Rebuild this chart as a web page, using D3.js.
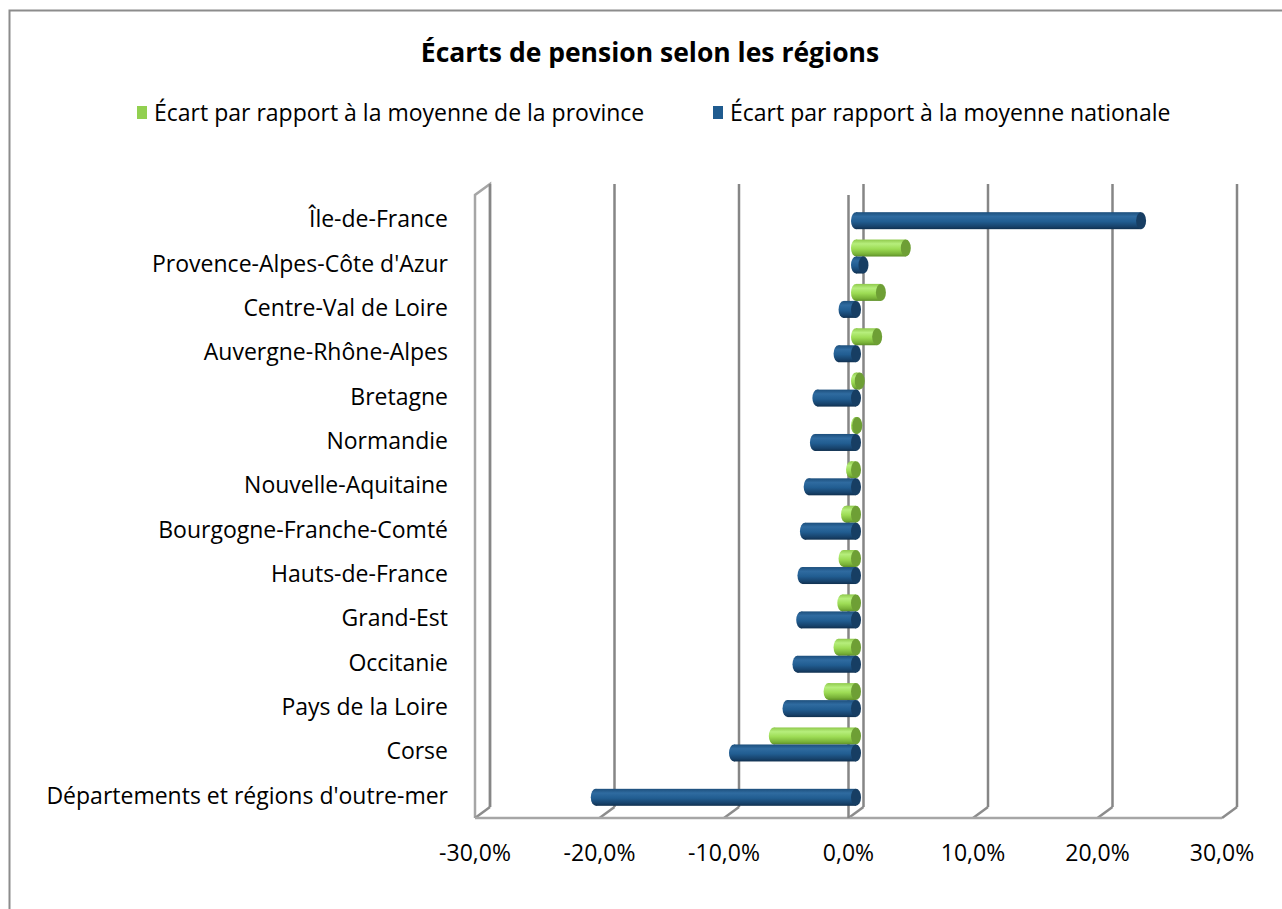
<!DOCTYPE html>
<html>
<head>
<meta charset="utf-8">
<script src="https://cdn.jsdelivr.net/npm/d3@7/dist/d3.min.js"></script>
<style>
  body { margin: 0; background: white; }
  text { font-family: "Open Sans", "Noto Sans", sans-serif; fill: #000; }
</style>
</head>
<body>
<div id="chart"></div>
<script>
var regions = ["Île-de-France", "Provence-Alpes-Côte d'Azur", "Centre-Val de Loire",
  "Auvergne-Rhône-Alpes", "Bretagne", "Normandie", "Nouvelle-Aquitaine",
  "Bourgogne-Franche-Comté", "Hauts-de-France", "Grand-Est", "Occitanie",
  "Pays de la Loire", "Corse", "Départements et régions d'outre-mer"];
var ecartProvince = [null, 4.0, 2.0, 1.7, 0.3, 0.1, -0.4, -0.8, -1.0, -1.1, -1.4, -2.2, -6.6, null];
var ecartNational = [22.9, 0.6, -1.0, -1.4, -3.1, -3.3, -3.8, -4.1, -4.3, -4.4, -4.7, -5.5, -9.8, -20.9];
var seriesNames = ["Écart par rapport à la moyenne de la province", "Écart par rapport à la moyenne nationale"];
var tickValues = [-30, -20, -10, 0, 10, 20, 30];

var W = 1282, H = 909;
var depthX = 15, depthY = -11;   // 3D depth offset from front to back wall

var svg = d3.select("#chart").append("svg")
    .attr("width", W)
    .attr("height", H);

// outer chart border
svg.append("rect")
    .attr("x", 9.5).attr("y", 10.5)
    .attr("width", 1300).attr("height", 920)
    .style("fill", "white")
    .style("stroke", "#8c8c8c")
    .style("stroke-width", 2);

// title
svg.append("text")
    .attr("x", 650).attr("y", 62)
    .attr("text-anchor", "middle")
    .style("font-size", "26.5px")
    .style("font-weight", "bold")
    .text("Écarts de pension selon les régions");

// legend
var legendX = [137, 713];
var colors = ["#92d050", "#1f5b8f"];
seriesNames.forEach(function(name, i) {
  svg.append("rect")
      .attr("x", legendX[i]).attr("y", 106)
      .attr("width", 10).attr("height", 13)
      .style("fill", colors[i]);
  svg.append("text")
      .attr("x", legendX[i] + 17).attr("y", 121)
      .style("font-size", "23px")
      .text(name);
});

// scales (front plane)
var x = d3.scaleLinear().domain([-30, 30]).range([475, 1222]);
var y = d3.scaleBand().domain(regions).range([197, 818]);
var floorY = 818, topY = 195;

// gradients for cylinders
var defs = svg.append("defs");
function makeGrad(id, stops) {
  var g = defs.append("linearGradient").attr("id", id)
      .attr("x1", 0).attr("y1", 0).attr("x2", 0).attr("y2", 1);
  stops.forEach(function(s) {
    g.append("stop").attr("offset", s[0]).attr("stop-color", s[1]);
  });
}
makeGrad("gGreen", [[0, "#8fc94c"], [0.25, "#b6ee7c"], [0.55, "#9ddc55"], [0.85, "#79b238"], [1, "#5e8f2a"]]);
makeGrad("gBlue", [[0, "#1d4f7c"], [0.25, "#2f6ba0"], [0.55, "#215d91"], [0.85, "#17426b"], [1, "#10304f"]]);
var capColor = ["#6e9f35", "#173e63"];

// left side wall
svg.append("path")
    .attr("d", "M" + x(-30) + "," + floorY + "L" + x(-30) + "," + topY +
               "L" + (x(-30) + depthX) + "," + (topY + depthY) +
               "L" + (x(-30) + depthX) + "," + (floorY + depthY))
    .style("fill", "none")
    .style("stroke", "#a6a6a6")
    .style("stroke-width", 2.5);

// back wall gridlines + floor diagonals
var grid = svg.append("g");
tickValues.forEach(function(t) {
  var xb = x(t) + depthX;
  grid.append("line")
      .attr("x1", xb).attr("x2", xb)
      .attr("y1", topY + depthY).attr("y2", floorY + depthY)
      .style("stroke", "#868686").style("stroke-width", 2.5);
  grid.append("line")
      .attr("x1", xb).attr("x2", x(t))
      .attr("y1", floorY + depthY).attr("y2", floorY)
      .style("stroke", "#8c8c8c").style("stroke-width", 2.5);
});
// floor front edge
grid.append("line")
    .attr("x1", x(-30)).attr("x2", x(30))
    .attr("y1", floorY).attr("y2", floorY)
    .style("stroke", "#a6a6a6").style("stroke-width", 2.5);
// front zero axis line
grid.append("line")
    .attr("x1", x(0)).attr("x2", x(0))
    .attr("y1", topY).attr("y2", floorY)
    .style("stroke", "#868686").style("stroke-width", 2.5);

// x tick labels
svg.selectAll(".xtick")
    .data(tickValues)
  .enter()
    .append("text")
    .attr("class", "xtick")
    .attr("x", function(d) { return x(d); })
    .attr("y", 861)
    .attr("text-anchor", "middle")
    .style("font-size", "23px")
    .text(function(d) { return d.toFixed(1).replace(".", ",") + "%"; });

// category labels
svg.selectAll(".ylab")
    .data(regions)
  .enter()
    .append("text")
    .attr("class", "ylab")
    .attr("x", 448)
    .attr("y", function(d) { return y(d) + y.bandwidth() / 2 + 8; })
    .attr("text-anchor", "end")
    .style("font-size", "23px")
    .text(function(d) { return d; });

// bars as horizontal cylinders, drawn at mid depth
var xm = function(v) { return x(v) + depthX / 2; };
var series = [ecartProvince, ecartNational];
var rx = 5, barH = 17;
var bars = svg.append("g");
regions.forEach(function(r, i) {
  var c = y(r) + y.bandwidth() / 2;
  series.forEach(function(vals, s) {
    var v = vals[i];
    if (v === null) return;
    var top = c - 24 + s * barH;
    var cy = top + barH / 2;
    var x0 = xm(Math.min(0, v)), x1 = xm(Math.max(0, v));
    var grad = s === 0 ? "url(#gGreen)" : "url(#gBlue)";
    bars.append("ellipse")
        .attr("cx", x0).attr("cy", cy)
        .attr("rx", rx).attr("ry", barH / 2)
        .style("fill", grad);
    bars.append("rect")
        .attr("x", x0).attr("y", top)
        .attr("width", x1 - x0).attr("height", barH)
        .style("fill", grad);
    bars.append("ellipse")
        .attr("cx", x1).attr("cy", cy)
        .attr("rx", rx).attr("ry", barH / 2)
        .style("fill", capColor[s]);
  });
});
</script>
</body>
</html>
